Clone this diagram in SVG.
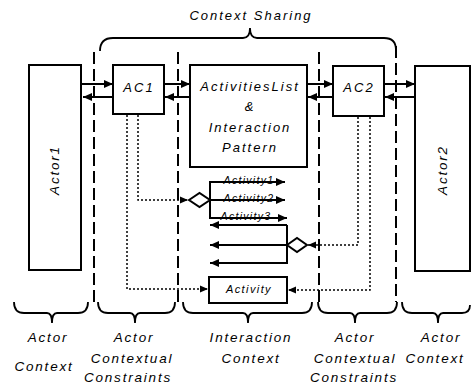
<svg xmlns="http://www.w3.org/2000/svg" width="473" height="385" viewBox="0 0 473 385">
  <style>
    .box{fill:#fff;stroke:#000;stroke-width:2}
    .t{font-family:"Liberation Sans",Arial,sans-serif;font-style:italic;fill:#000;text-anchor:middle}
    .big{font-size:13.5px;letter-spacing:1.8px}
    .mid{font-size:13px;letter-spacing:2px}
    .sm{font-size:10.5px;letter-spacing:1.3px}
    .dash{fill:none;stroke:#000;stroke-width:2;stroke-dasharray:12 5}
    .dot{fill:none;stroke:#000;stroke-width:1.5;stroke-dasharray:2 2}
    .flow{fill:none;stroke:#000;stroke-width:2}
    .brace{fill:none;stroke:#000;stroke-width:1.8}
    .dia{fill:#fff;stroke:#000;stroke-width:2}
  </style>
  <defs>
    <marker id="ah" markerUnits="userSpaceOnUse" markerWidth="10" markerHeight="8" refX="9" refY="4" orient="auto">
      <path d="M0,0 L9,4 L0,8 z" fill="#000"/>
    </marker>
    <marker id="ahs" markerUnits="userSpaceOnUse" markerWidth="9" markerHeight="8" refX="8" refY="4" orient="auto">
      <path d="M0,0.5 L8,4 L0,7.5 z" fill="#000"/>
    </marker>
  </defs>
  <rect width="473" height="385" fill="#fff"/>

  <!-- top brace -->
  <g id="context-sharing">
    <text class="t mid" x="251" y="20">Context Sharing</text>
    <path class="brace" d="M100,51 Q100,38 113,38 L243,38 Q250,38 250,28 Q250,38 257,38 L384,38 Q396,38 396,50"/>
  </g>

  <!-- zone separators -->
  <g id="separators">
    <line class="dash" x1="94" y1="52" x2="94" y2="302"/>
    <line class="dash" x1="178" y1="52" x2="178" y2="302"/>
    <line class="dash" x1="319" y1="52" x2="319" y2="302"/>
    <line class="dash" x1="396" y1="46" x2="396" y2="302"/>
  </g>

  <g id="actor1">
    <rect class="box" x="29" y="65" width="52" height="205"/>
    <text class="t big" transform="translate(59,170) rotate(-90)">Actor1</text>
  </g>
  <g id="actor2">
    <rect class="box" x="415" y="66" width="55" height="205"/>
    <text class="t big" transform="translate(447,170) rotate(-90)">Actor2</text>
  </g>
  <g id="ac1">
    <rect class="box" x="113" y="65" width="51" height="49"/>
    <text class="t mid" x="139" y="92">AC1</text>
  </g>
  <g id="ac2">
    <rect class="box" x="333" y="66" width="51" height="50"/>
    <text class="t mid" x="359" y="92">AC2</text>
  </g>
  <g id="activities-list">
    <rect class="box" x="190" y="65" width="117" height="102"/>
    <text class="t mid" x="250" y="91">ActivitiesList</text>
    <text class="t mid" x="250" y="111">&amp;</text>
    <text class="t mid" x="250" y="132">Interaction</text>
    <text class="t mid" x="250" y="152">Pattern</text>
  </g>
  <g id="activity">
    <rect class="box" x="209" y="277" width="78" height="26"/>
    <text class="t" style="font-size:11px;letter-spacing:1.4px" x="249" y="293">Activity</text>
  </g>
  <g id="decisions">
    <polygon class="dia" points="189,200 199.5,193 210,200 199.5,207"/>
    <polygon class="dia" points="287,245 297,238 307,245 297,252"/>
  </g>

  <g id="connectors">
    <!-- message flow between actors, constraints and the list -->
    <line class="flow" x1="82" y1="84" x2="113" y2="84" marker-end="url(#ah)"/>
    <line class="flow" x1="113" y1="97" x2="83" y2="97" marker-end="url(#ah)"/>
    <line class="flow" x1="164" y1="84" x2="190" y2="84" marker-end="url(#ah)"/>
    <line class="flow" x1="190" y1="97" x2="165" y2="97" marker-end="url(#ah)"/>
    <line class="flow" x1="307" y1="84" x2="333" y2="84" marker-end="url(#ah)"/>
    <line class="flow" x1="333" y1="97" x2="308" y2="97" marker-end="url(#ah)"/>
    <line class="flow" x1="384" y1="84" x2="415" y2="84" marker-end="url(#ah)"/>
    <line class="flow" x1="415" y1="97" x2="385" y2="97" marker-end="url(#ah)"/>

    <!-- outgoing activities -->
    <line class="flow" x1="210" y1="181" x2="210" y2="218"/>
    <line class="flow" x1="210" y1="182" x2="285" y2="182" marker-end="url(#ah)"/>
    <line class="flow" x1="210" y1="200" x2="285" y2="200" marker-end="url(#ah)"/>
    <line class="flow" x1="209" y1="218" x2="287" y2="218" marker-end="url(#ah)"/>
    <text class="t sm" x="249" y="184">Activity1</text>
    <text class="t sm" x="249" y="202">Activity2</text>
    <text class="t sm" x="246" y="220">Activity3</text>

    <!-- incoming activities -->
    <line class="flow" x1="287" y1="225" x2="287" y2="264"/>
    <line class="flow" x1="287" y1="225" x2="210" y2="225" marker-end="url(#ah)"/>
    <line class="flow" x1="287" y1="245" x2="210" y2="245" marker-end="url(#ah)"/>
    <line class="flow" x1="287" y1="263" x2="210" y2="263" marker-end="url(#ah)"/>

    <!-- constraint links -->
    <polyline class="dot" points="138,115 138,200 188,200" marker-end="url(#ahs)"/>
    <polyline class="dot" points="127,115 127,289 208,289" marker-end="url(#ahs)"/>
    <polyline class="dot" points="358,117 358,245 308,245" marker-end="url(#ahs)"/>
    <polyline class="dot" points="370,117 370,290 288,290" marker-end="url(#ahs)"/>
  </g>

  <!-- bottom braces and zone names -->
  <g id="zones">
    <path class="brace" d="M14,302 Q14,313 24,313 L47,313 Q52,313 52,323 Q52,313 57,313 L78,313 Q88,313 88,302"/>
    <path class="brace" d="M98,302 Q98,313 108,313 L130,313 Q135,313 135,323 Q135,313 140,313 L165,313 Q175,313 175,302"/>
    <path class="brace" d="M183,302 Q183,313 193,313 L243,313 Q248,313 248,323 Q248,313 253,313 L302,313 Q312,313 312,302"/>
    <path class="brace" d="M318,302 Q318,313 328,313 L350,313 Q355,313 355,323 Q355,313 360,313 L387,313 Q397,313 397,302"/>
    <path class="brace" d="M402,302 Q402,313 412,313 L433,313 Q438,313 438,323 Q438,313 443,313 L462,313 Q470,313 470,305"/>

    <text class="t big" x="48" y="342">Actor</text>
    <text class="t big" x="44" y="371">Context</text>
    <text class="t big" x="134" y="342">Actor</text>
    <text class="t big" x="132" y="363">Contextual</text>
    <text class="t big" x="128" y="382">Constraints</text>
    <text class="t big" x="251" y="342">Interaction</text>
    <text class="t big" x="251" y="363">Context</text>
    <text class="t big" x="355" y="342">Actor</text>
    <text class="t big" x="355" y="363">Contextual</text>
    <text class="t big" x="354" y="382">Constraints</text>
    <text class="t big" x="441" y="342">Actor</text>
    <text class="t big" x="435" y="363">Context</text>
  </g>
</svg>
